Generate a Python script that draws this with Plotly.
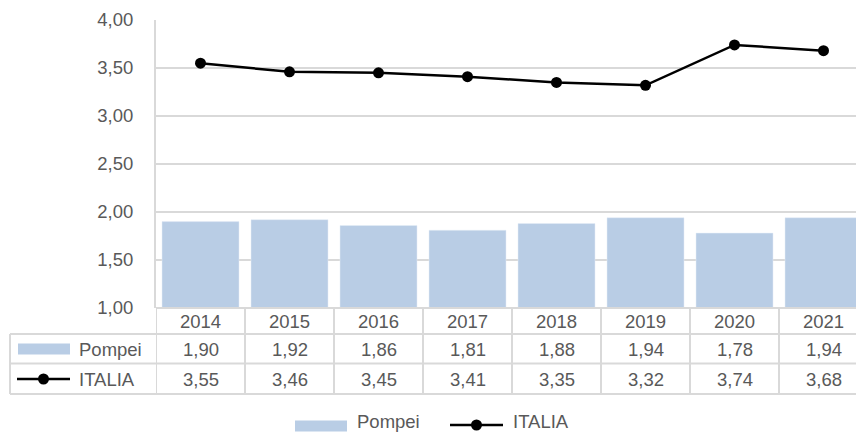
import plotly.graph_objects as go

years = ["2014", "2015", "2016", "2017", "2018", "2019", "2020", "2021"]
pompei = [1.90, 1.92, 1.86, 1.81, 1.88, 1.94, 1.78, 1.94]
italia = [3.55, 3.46, 3.45, 3.41, 3.35, 3.32, 3.74, 3.68]
series_names = ["Pompei", "ITALIA"]
y_ticks = [1.0, 1.5, 2.0, 2.5, 3.0, 3.5, 4.0]

FW, FH = 856, 432
L, R, T, B = 156, 856, 20, 308
W, H = R - L, B - T

def px(x):
    return (x - L) / W

def py(y):
    return (B - y) / H

BAR = "#b9cde5"
GRID = "#d9d9d9"
TXT = "#595959"
FONT = "Liberation Sans, Arial, sans-serif"
FS = 18.5

fig = go.Figure()
fig.add_trace(go.Bar(x=list(range(len(years))), y=pompei, base=0, marker_color=BAR,
                     width=0.865, name=series_names[0], showlegend=False))
fig.add_trace(go.Scatter(x=list(range(len(years))), y=italia, mode="lines+markers",
                         line=dict(color="black", width=2.5),
                         marker=dict(color="black", size=11),
                         name=series_names[1], showlegend=False, cliponaxis=False))

shapes = []
ann = []
for k in range(len(years) + 1):
    shapes.append(dict(type="line", xref="x", yref="paper", x0=k - 0.5, x1=k - 0.5,
                       y0=py(308), y1=py(394), line=dict(color=GRID, width=2)))
shapes.append(dict(type="line", xref="paper", yref="paper", x0=px(10), x1=px(10),
                   y0=py(334), y1=py(394), line=dict(color=GRID, width=2)))
shapes.append(dict(type="line", xref="paper", yref="paper", x0=px(156), x1=1.0,
                   y0=py(308), y1=py(308), line=dict(color=GRID, width=2)))
for yy in (334, 363.5, 394):
    shapes.append(dict(type="line", xref="paper", yref="paper", x0=px(10), x1=1.0,
                       y0=py(yy), y1=py(yy), line=dict(color=GRID, width=2)))

for i, yr in enumerate(years):
    ann.append(dict(x=i, y=py(321), xref="x", yref="paper", text=yr, showarrow=False,
                    xanchor="center", yanchor="middle", font=dict(size=FS, color=TXT, family=FONT)))
    ann.append(dict(x=i, y=py(349), xref="x", yref="paper", text=f"{pompei[i]:.2f}".replace(".", ","),
                    showarrow=False, xanchor="center", yanchor="middle",
                    font=dict(size=FS, color=TXT, family=FONT)))
    ann.append(dict(x=i, y=py(379), xref="x", yref="paper", text=f"{italia[i]:.2f}".replace(".", ","),
                    showarrow=False, xanchor="center", yanchor="middle",
                    font=dict(size=FS, color=TXT, family=FONT)))

def bar_key(x0, x1, yc):
    shapes.append(dict(type="rect", xref="paper", yref="paper", x0=px(x0), x1=px(x1),
                       y0=py(yc + 5.5), y1=py(yc - 5.5), line=dict(width=0), fillcolor=BAR))

def line_key(x0, x1, yc):
    shapes.append(dict(type="line", xref="paper", yref="paper", x0=px(x0), x1=px(x1),
                       y0=py(yc), y1=py(yc), line=dict(color="black", width=2.5)))
    xm = (x0 + x1) / 2
    shapes.append(dict(type="circle", xref="paper", yref="paper", x0=px(xm - 5.5), x1=px(xm + 5.5),
                       y0=py(yc + 5.5), y1=py(yc - 5.5), line=dict(width=0), fillcolor="black"))

bar_key(18, 70, 349)
line_key(17, 70, 379)
ann.append(dict(x=px(77), y=py(349), xref="paper", yref="paper", text=series_names[0], showarrow=False,
                xanchor="left", yanchor="middle", font=dict(size=FS, color=TXT, family=FONT)))
ann.append(dict(x=px(77), y=py(379), xref="paper", yref="paper", text=series_names[1], showarrow=False,
                xanchor="left", yanchor="middle", font=dict(size=FS, color=TXT, family=FONT)))

bar_key(295, 347, 426)
line_key(450, 503, 425)
ann.append(dict(x=px(355), y=py(421.5), xref="paper", yref="paper", text=series_names[0], showarrow=False,
                xanchor="left", yanchor="middle", font=dict(size=FS, color=TXT, family=FONT)))
ann.append(dict(x=px(511), y=py(421.5), xref="paper", yref="paper", text=series_names[1], showarrow=False,
                xanchor="left", yanchor="middle", font=dict(size=FS, color=TXT, family=FONT)))

fig.update_layout(
    width=FW, height=FH,
    margin=dict(l=L, r=FW - R, t=T, b=FH - B, pad=0),
    paper_bgcolor="white", plot_bgcolor="white",
    separators=",.",
    showlegend=False,
    shapes=shapes, annotations=ann,
    font=dict(family=FONT, size=FS, color=TXT),
    xaxis=dict(range=[-0.5, -0.5 + W / 89.0], showticklabels=False, showgrid=False,
               zeroline=False, showline=False, fixedrange=True),
    yaxis=dict(range=[1, 4], tickvals=y_ticks, tickformat=".2f", showgrid=True, gridcolor=GRID,
               gridwidth=1.5, zeroline=False, showline=True, linecolor=GRID, linewidth=2,
               ticks="", ticklabelstandoff=17, tickfont=dict(size=FS, color=TXT, family=FONT)),
)

fig.write_html("out.html", config={"displayModeBar": False},
               post_script="document.body.style.margin='0';document.body.style.padding='0';")
